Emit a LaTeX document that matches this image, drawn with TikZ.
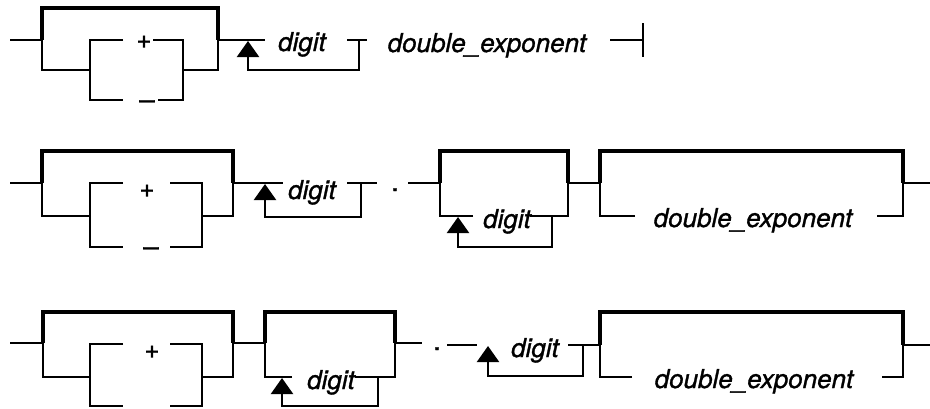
\documentclass[tikz,border=0pt]{standalone}
\usepackage{fontspec}
\setmainfont{TeX Gyre Heros}[FakeBold=1.2]
\usetikzlibrary{arrows.meta}
\begin{document}
\begin{tikzpicture}[x=1pt,y=-1pt,
  ln/.style={line width=2.2pt, line join=miter},
  thk/.style={line width=4pt, line join=miter},
  lbl/.style={font=\fontsize{26}{30}\selectfont\itshape, inner sep=0pt, anchor=base},
  plus/.style={font=\fontsize{26}{28}\selectfont, inner sep=0pt},
  minus/.style={font=\fontsize{28}{30}\selectfont, inner sep=0pt, anchor=base},
  dotn/.style={font=\fontsize{26}{30}\selectfont, inner sep=0pt, anchor=base},
  arr/.style={ln, -{Triangle[width=22pt,length=16pt]}}]
\useasboundingbox[fill=white] (0,0) rectangle (930,408);

% ================= Row 1 =================
\draw[ln] (10,40) -- (42,40);
\draw[thk] (42,40) -- (42,8) -- (218,8) -- (218,40);
\draw[ln] (42,40) -- (42,70) -- (90,70);
\draw[ln] (183,70) -- (218,70) -- (218,40);
\draw[ln] (123,40) -- (90,40) -- (90,100) -- (123,100);
\draw[ln] (153,40) -- (183,40) -- (183,100) -- (158,100);
\node[plus] (p1) at (144,42) {+};
\node[minus] (m1) at (147,109) {–};
\draw[ln] (218,40) -- (265,40);
\node[lbl] (d1) at (302,51) {digit};
\draw[ln] (347,40) -- (367,40);
\draw[arr] (359,40) -- (359,70) -- (248,70) -- (248,41);
\node[lbl] (e1) at (487,52) {double\_exponent};
\draw[ln] (610,40) -- (643,40);
\draw[ln] (643,23) -- (643,57);

% ================= Row 2 =================
\draw[ln] (10,183) -- (42,183);
\draw[thk] (42,183) -- (42,151) -- (233,151) -- (233,183);
\draw[ln] (42,183) -- (42,216) -- (90,216);
\draw[ln] (202,216) -- (233,216) -- (233,183);
\draw[ln] (123,183) -- (90,183) -- (90,247) -- (123,247);
\draw[ln] (170,183) -- (202,183) -- (202,247) -- (170,247);
\node[plus] (p2) at (147,191) {+};
\node[minus] (m2) at (151,256) {–};
\draw[ln] (233,183) -- (283,183);
\node[lbl] (d2) at (312,199) {digit};
\draw[ln] (347,183) -- (377,183);
\draw[arr] (361,183) -- (361,217) -- (265,217) -- (265,184);
\node[dotn] (dot2) at (395,191) {.};
\draw[ln] (408,183) -- (440,183);
% bracket B
\draw[thk] (440,183) -- (440,151) -- (568,151) -- (568,183);
\draw[ln] (473,216) -- (440,216) -- (440,183);
\draw[ln] (530,216) -- (568,216) -- (568,183);
\node[lbl] (d3) at (507,228) {digit};
\draw[arr] (552,216) -- (552,247) -- (458,247) -- (458,217);
\draw[ln] (568,183) -- (600,183);
% bracket C
\draw[thk] (600,183) -- (600,151) -- (903,151) -- (903,183);
\draw[ln] (635,216) -- (600,216) -- (600,183);
\draw[ln] (877,216) -- (903,216) -- (903,183);
\node[lbl] (e2) at (753,227) {double\_exponent};
\draw[ln] (903,183) -- (930,183);

% ================= Row 3 =================
\draw[ln] (10,343) -- (43,343);
\draw[thk] (43,343) -- (43,312) -- (233,312) -- (233,343);
\draw[ln] (43,343) -- (43,377) -- (90,377);
\draw[ln] (202,377) -- (233,377) -- (233,343);
\draw[ln] (123,344) -- (90,344) -- (90,406) -- (123,406);
\draw[ln] (170,344) -- (202,344) -- (202,406) -- (170,406);
\node[plus] (p3) at (152,352) {+};
\draw[ln] (233,343) -- (265,343);
% bracket B
\draw[thk] (265,343) -- (265,312) -- (395,312) -- (395,343);
\draw[ln] (292,377) -- (265,377) -- (265,343);
\draw[ln] (355,377) -- (395,377) -- (395,343);
\node[lbl] (d4) at (331,389) {digit};
\draw[arr] (378,377) -- (378,406) -- (282,406) -- (282,378);
\draw[ln] (395,343) -- (422,343);
\node[dotn] (dot3) at (437,350) {.};
\draw[ln] (447,345) -- (477,345);
\node[lbl] (d5) at (535,357) {digit};
\draw[ln] (568,345) -- (600,345);
\draw[arr] (583,345) -- (583,376) -- (488,376) -- (488,346);
% bracket C
\draw[thk] (600,345) -- (600,312) -- (903,312) -- (903,345);
\draw[ln] (632,377) -- (600,377) -- (600,345);
\draw[ln] (882,377) -- (903,377) -- (903,345);
\node[lbl] (e3) at (754,388) {double\_exponent};
\draw[ln] (903,345) -- (930,345);
\end{tikzpicture}
\end{document}
